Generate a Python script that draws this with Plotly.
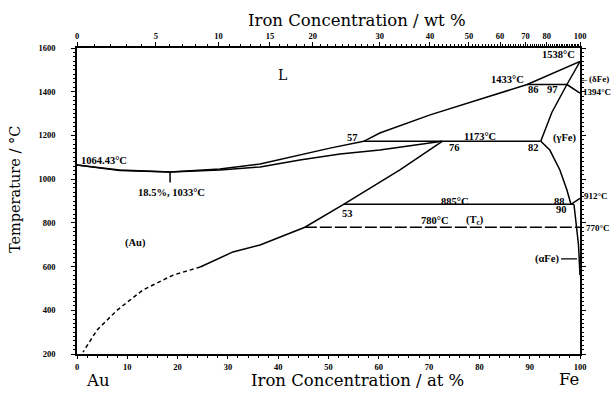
import plotly.graph_objects as go

# ---------------- data (at% Fe, temperature in °C) ----------------
liquidus_x = [0, 8.5, 18.5, 28.4, 36.4, 44.3, 50.3, 57, 60.2, 70.2, 80.1, 89.5, 100]
liquidus_T = [1064.43, 1042, 1033, 1046, 1069, 1110, 1142, 1173, 1211, 1294, 1367, 1433, 1538]

solidus_au_x = [0, 8.5, 18.5, 28.4, 36.4, 44.3, 52.3, 60.2, 72.6]
solidus_au_T = [1064.43, 1039, 1033, 1042, 1056, 1088, 1115, 1133, 1173]

solvus_au_x = [72.6, 64.2, 53, 45.3, 36.4, 31.0, 24.5]
solvus_au_T = [1173, 1042, 885, 780, 699, 667, 598]

solvus_au_dash_x = [24.5, 19.1, 13.1, 8.0, 4.0, 1.2]
solvus_au_dash_T = [598, 561, 493, 401, 310, 209]

solidus_gamma_x = [92.2, 94.4, 97.4]
solidus_gamma_T = [1173, 1305, 1433]

solidus_delta_x = [97.4, 100]
solidus_delta_T = [1433, 1538]

delta_gamma_x = [97.4, 98.8, 100]
delta_gamma_T = [1433, 1410, 1394]

solvus_gamma_x = [92.2, 94.0, 96.0, 97.4, 98.2]
solvus_gamma_T = [1173, 1133, 1042, 950, 885]

gamma_alpha_x = [98.2, 99.2, 100]
gamma_alpha_T = [885, 902, 912]

solvus_alpha_x = [98.8, 99.3, 99.7, 100]
solvus_alpha_T = [885, 780, 700, 560]

iso_1433_x = [89.5, 97.4]
iso_1433_T = [1433, 1433]
iso_1173_x = [57, 92.2]
iso_1173_T = [1173, 1173]
iso_885_x = [53, 98.8]
iso_885_T = [885, 885]
curie_x = [45.3, 100]
curie_T = [780, 780]
minimum_x = [18.5, 18.5]
minimum_T = [1033, 985]

# axis ticks
y_ticks = [200, 400, 600, 800, 1000, 1200, 1400, 1600]
x_ticks = [0, 10, 20, 30, 40, 50, 60, 70, 80, 90, 100]
wt_ticks = [0, 5, 10, 15, 20, 30, 40, 50, 60, 70, 80, 100]

M_FE, M_AU = 55.845, 196.967


def wt_to_at(w):
    a = w / M_FE
    b = (100 - w) / M_AU
    return 100 * a / (a + b)


SERIF = "Liberation Serif"
TITLE = "DejaVu Serif"
fig = go.Figure()


def line(x, y, dash="solid", width=1.5):
    fig.add_trace(go.Scatter(x=x, y=y, mode="lines", hoverinfo="skip",
                             line=dict(color="black", width=width, dash=dash),
                             showlegend=False))


for xs, ys in [(liquidus_x, liquidus_T), (solidus_au_x, solidus_au_T),
               (solvus_au_x, solvus_au_T), (solidus_gamma_x, solidus_gamma_T),
               (solidus_delta_x, solidus_delta_T), (delta_gamma_x, delta_gamma_T),
               (solvus_gamma_x, solvus_gamma_T), (gamma_alpha_x, gamma_alpha_T),
               (solvus_alpha_x, solvus_alpha_T), (iso_1433_x, iso_1433_T),
               (iso_1173_x, iso_1173_T), (iso_885_x, iso_885_T),
               (minimum_x, minimum_T)]:
    line(xs, ys)
line(solvus_au_dash_x, solvus_au_dash_T, dash="4px,3px")
line(curie_x, curie_T, dash="12px,3px", width=1.3)

# invisible trace for top axis
fig.add_trace(go.Scatter(x=[0, 100], y=[200, 200], xaxis="x2", mode="markers",
                         marker=dict(opacity=0), showlegend=False, hoverinfo="skip"))

lab_font = dict(family=SERIF, size=10.5, color="black", weight="bold")
labels = [
    ("1064.43°C", 0.3, 1086, "left"),
    ("18.5%, 1033°C", 18.8, 941, "center"),
    ("57", 54.7, 1190, "center"),
    ("76", 75.1, 1143, "center"),
    ("82", 90.7, 1143, "center"),
    ("1173°C", 80.1, 1197, "center"),
    ("(γFe)", 97.0, 1188, "center"),
    ("1433°C", 85.5, 1458, "center"),
    ("86", 90.8, 1410, "center"),
    ("97", 94.6, 1410, "center"),
    ("1538°C", 95.8, 1568, "center"),
    ("885°C", 75.1, 900, "center"),
    ("53", 53.7, 845, "center"),
    ("88", 96.0, 900, "center"),
    ("90", 96.4, 860, "center"),
    ("780°C", 71.2, 813, "center"),
    ("(T<sub>c</sub>)", 79.1, 813, "center"),
    ("(Au)", 11.7, 708, "center"),
]
for t, x, y, xa in labels:
    fig.add_annotation(x=x, y=y, text=t, showarrow=False, xanchor=xa, yanchor="middle",
                       font=lab_font)

# labels to the right of the frame (paper x, data y)
right_font = dict(family=SERIF, size=9, color="black", weight="bold")
right_labels = [
    ("←(δFe)", 0.996, 1458),
    ("1394°C", 1.002, 1399),
    ("912°C", 1.004, 923),
    ("770°C", 1.008, 777),
]
for t, x, y in right_labels:
    fig.add_annotation(xref="paper", yref="y", x=x, y=y, text=t, showarrow=False,
                       xanchor="left", yanchor="middle", font=right_font)

fig.add_annotation(x=40.8, y=1476, text="L", showarrow=False,
                   font=dict(family=TITLE, size=14, color="black"))
fig.add_annotation(x=99.4, y=635, text="(αFe)", showarrow=True, arrowhead=0,
                   arrowwidth=1.2, ax=-16, ay=0, xanchor="right", font=lab_font,
                   arrowcolor="black")

# axis titles
title_font = dict(family=TITLE, size=16.5, color="black")
fig.add_annotation(xref="paper", yref="paper", x=0.557, y=1.09, text="Iron Concentration / wt %",
                   showarrow=False, yanchor="middle", font=title_font)
fig.add_annotation(xref="paper", yref="paper", x=0.558, y=-0.088, text="Iron Concentration / at %",
                   showarrow=False, yanchor="middle", font=title_font)
fig.add_annotation(xref="paper", yref="paper", x=0.014, y=-0.088, text="Au",
                   showarrow=False, yanchor="middle", font=title_font)
fig.add_annotation(xref="paper", yref="paper", x=1.002, y=-0.082, text="Fe",
                   showarrow=False, yanchor="middle", font=title_font)
fig.add_annotation(xref="paper", yref="paper", x=-0.123, y=0.536, text="Temperature / °C",
                   textangle=-90, showarrow=False, xanchor="center", yanchor="middle",
                   font=dict(family=TITLE, size=14.5, color="black"))

tick_font = dict(family=SERIF, size=8.5, color="black", weight="bold")
fig.update_layout(
    width=616, height=394,
    margin=dict(l=77, r=36, t=48, b=40),
    paper_bgcolor="white", plot_bgcolor="white",
    xaxis=dict(range=[0, 100], tickvals=x_ticks, ticktext=[str(v) for v in x_ticks],
               showgrid=False, zeroline=False, showline=True, linecolor="black", linewidth=1.5,
               ticks="outside", ticklen=3, tickwidth=1, tickcolor="black", tickfont=tick_font,
               minor=dict(dtick=2, ticks="outside", ticklen=2, tickcolor="black"),
               ticklabelstandoff=1),
    xaxis2=dict(range=[0, 100], overlaying="x", side="top", anchor="y",
                tickmode="array", tickvals=[wt_to_at(w) for w in wt_ticks],
                ticktext=[str(w) for w in wt_ticks],
                showgrid=False, zeroline=False, showline=True, linecolor="black", linewidth=1.5,
                ticks="outside", ticklen=4, tickwidth=1, tickcolor="black", tickfont=tick_font,
                minor=dict(tickvals=[wt_to_at(w) for w in range(0, 101)], ticks="outside",
                           ticklen=2, tickcolor="black")),
    yaxis=dict(range=[200, 1600], tickvals=y_ticks, ticktext=[str(v) for v in y_ticks],
               showgrid=False, zeroline=False, showline=True, linecolor="black", linewidth=1.5,
               mirror="ticks", ticks="outside", ticklen=4, tickwidth=1, tickcolor="black",
               tickfont=tick_font, ticklabelstandoff=14,
               minor=dict(dtick=20, ticks="outside", ticklen=2, tickcolor="black")),
)

# remove the page's default body margin so the 616x394 figure fills the window exactly
fig.write_html("out.html", config={"displayModeBar": False},
               post_script="document.body.style.margin='0';document.body.style.overflow='hidden';")
